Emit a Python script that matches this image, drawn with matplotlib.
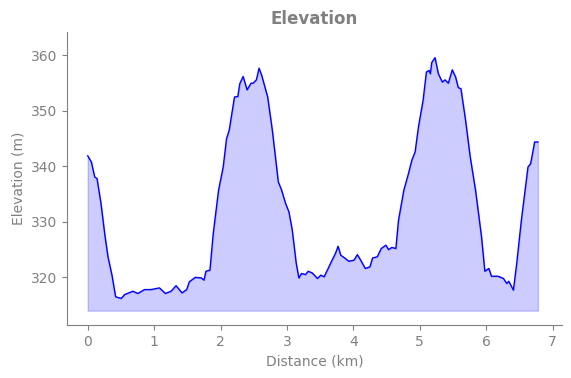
import matplotlib
matplotlib.use("Agg")
import matplotlib.pyplot as plt
import numpy as np

distance_km = [0.0, 0.055, 0.105, 0.14, 0.2, 0.255, 0.305, 0.365, 0.42, 0.505, 0.555, 0.68, 0.755,
               0.855, 0.955, 1.08, 1.17, 1.255, 1.33, 1.42, 1.49, 1.53, 1.62, 1.71, 1.75, 1.78,
               1.84, 1.89, 1.97, 2.04, 2.09, 2.13, 2.21, 2.26, 2.29, 2.34, 2.4, 2.46, 2.49, 2.54,
               2.58, 2.62, 2.71, 2.78, 2.87, 2.92, 2.98, 3.03, 3.08, 3.14, 3.18, 3.22, 3.28, 3.32,
               3.38, 3.46, 3.51, 3.56, 3.62, 3.68, 3.73, 3.77, 3.81, 3.88, 3.93, 4.01, 4.06, 4.11,
               4.18, 4.25, 4.29, 4.36, 4.42, 4.49, 4.53, 4.58, 4.64, 4.68, 4.76, 4.83, 4.88, 4.93,
               4.98, 5.05, 5.1, 5.14, 5.16, 5.18, 5.23, 5.28, 5.34, 5.38, 5.43, 5.49, 5.54, 5.58,
               5.62, 5.69, 5.76, 5.84, 5.93, 5.98, 6.04, 6.08, 6.18, 6.26, 6.31, 6.34, 6.41, 6.46,
               6.53, 6.63, 6.67, 6.73, 6.78]
elevation_m = [341.9, 340.8, 338.1, 337.8, 333.3, 327.9, 323.7, 320.4, 316.5, 316.2, 316.9, 317.5,
               317.1, 317.8, 317.8, 318.1, 317.1, 317.5, 318.5, 317.2, 317.8, 319.2, 320.0, 319.9,
               319.5, 321.1, 321.3, 327.9, 335.7, 339.9, 345.0, 346.5, 352.5, 352.6, 354.9, 356.2,
               353.8, 355.0, 355.0, 355.6, 357.7, 356.4, 352.5, 346.5, 337.2, 335.7, 333.3, 331.8,
               328.5, 322.5, 319.9, 320.7, 320.5, 321.1, 320.8, 319.8, 320.4, 320.1, 321.6, 323.1,
               324.3, 325.6, 324.0, 323.4, 322.9, 323.1, 324.1, 323.1, 321.6, 321.9, 323.5, 323.7,
               325.2, 325.8, 325.0, 325.4, 325.2, 330.3, 335.7, 338.7, 341.1, 342.6, 347.1, 351.9,
               357.0, 357.3, 356.7, 358.7, 359.6, 356.7, 355.2, 355.6, 355.0, 357.4, 356.1, 354.2,
               354.0, 348.3, 341.7, 335.7, 327.3, 321.1, 321.6, 320.2, 320.2, 319.8, 318.9, 319.3,
               317.7, 322.5, 330.3, 339.9, 340.5, 344.4, 344.4]
fill_base = 314.0

gray = "#808080"
fig = plt.figure(figsize=(5.71, 3.78), dpi=100)
ax = fig.add_axes([0.117, 0.140, 0.867, 0.775])
ax.fill_between(distance_km, elevation_m, fill_base, color="blue", alpha=0.2)
ax.plot(distance_km, elevation_m, color="blue", lw=1.0)
ax.set_xlim(-0.315, 7.14)
ax.set_ylim(311.4, 364.2)
ax.set_xticks(range(0, 8))
ax.set_yticks([320, 330, 340, 350, 360])
ax.set_title("Elevation", color=gray, fontweight="bold", fontsize=12)
ax.set_xlabel("Distance (km)", color=gray, fontsize=10)
ax.set_ylabel("Elevation (m)", color=gray, fontsize=10)
for s in ["top", "right"]:
    ax.spines[s].set_visible(False)
for s in ["left", "bottom"]:
    ax.spines[s].set_color(gray)
ax.tick_params(colors=gray, labelsize=10)
fig.savefig("out.png", dpi=100)
